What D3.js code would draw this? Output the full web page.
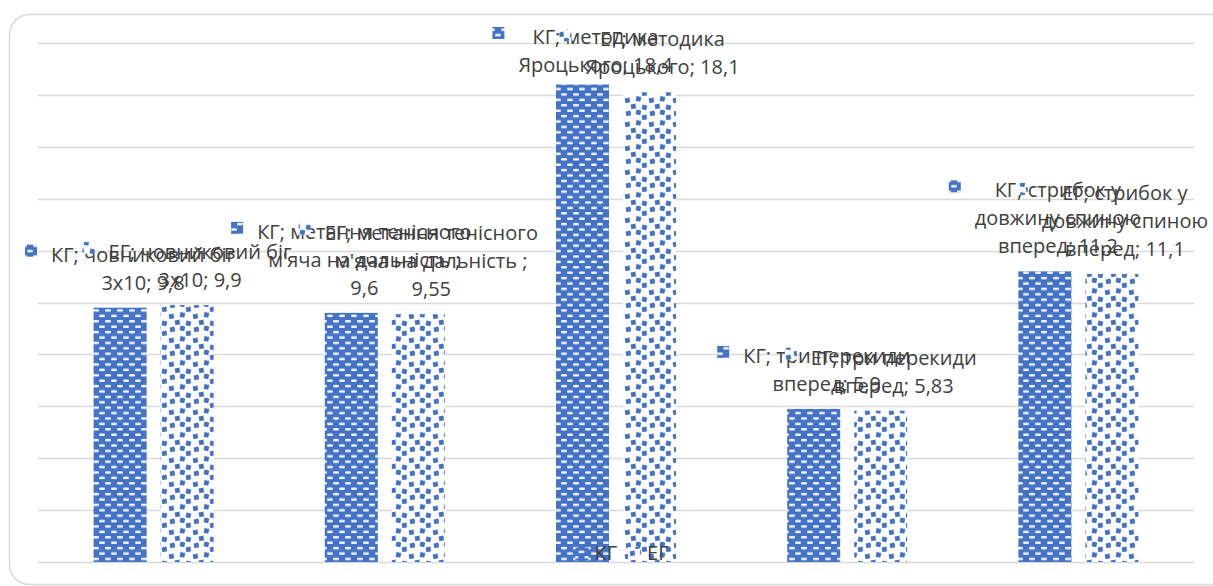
<!DOCTYPE html>
<html>
<head>
<meta charset="utf-8">
<script src="https://cdn.jsdelivr.net/npm/d3@7"></script>
<style>
  html, body { margin: 0; padding: 0; background: #fff; }
  svg { display: block; }
  text { font-family: "Open Sans", "Noto Sans", sans-serif; fill: #404040; }
</style>
</head>
<body>
<svg id="chart" width="1213" height="586"></svg>
<script>
// ---- data ----
const categories = [
  "човниковий біг\n3x10",
  "метання тенісного\nм'яча на дальність ",
  "методика\nЯроцького",
  "три перекиди\nвперед",
  "стрибок у\nдовжину спиною\nвперед"
];
const valueOnNewLine = [false, true, false, false, false];
const seriesNames = ["КГ", "ЕГ"];
const kgValues = [9.8, 9.6, 18.4, 5.9, 11.2];
const egValues = [9.9, 9.55, 18.1, 5.83, 11.1];
const yTicks = [0, 2, 4, 6, 8, 10, 12, 14, 16, 18, 20];

// ---- layout ----
const plot = { left: 38, right: 1194, top: 43, bottom: 562 };
const svg = d3.select("#chart");
const defs = svg.append("defs");
const blue = "#4472C4";

// KG pattern: blue with white short dashes in brick layout
const pK = defs.append("pattern").attr("id", "patKG")
  .attr("patternUnits", "userSpaceOnUse").attr("width", 12).attr("height", 10.8);
pK.append("rect").attr("width", 12).attr("height", 10.8).attr("fill", blue);
[[3, 1.4], [-3, 6.8], [9, 6.8]].forEach(([x, y]) =>
  pK.append("rect").attr("x", x).attr("y", y).attr("width", 6).attr("height", 2.6)
    .attr("rx", 1.3).attr("fill", "#f2f5fb"));

// EG pattern: white with blue confetti squares
const pE = defs.append("pattern").attr("id", "patEG")
  .attr("patternUnits", "userSpaceOnUse").attr("width", 24).attr("height", 24);
pE.append("rect").attr("width", 24).attr("height", 24).attr("fill", "#fff");
[[1, 2], [12, 0.5], [7, 8], [18, 9], [2, 15], [12, 14], [18, 19]].forEach(([x, y], i) =>
  pE.append("rect").attr("x", x).attr("y", y).attr("width", 4.8).attr("height", 4.8)
    .attr("transform", `rotate(${i % 2 ? 12 : -10},${x + 2.4},${y + 2.4})`)
    .attr("fill", blue));
const fills = ["url(#patKG)", "url(#patEG)"];

// chart frame
svg.append("rect").attr("x", 9.5).attr("y", 14.5).attr("width", 1240).attr("height", 570)
  .attr("rx", 20).attr("fill", "#fff").attr("stroke", "#d9d9d9").attr("stroke-width", 1.5);

const x0 = d3.scaleBand().domain(d3.range(categories.length)).range([plot.left, plot.right]).padding(0);
const groupW = 120;
const x1 = d3.scaleBand().domain(seriesNames).range([0, groupW]).paddingInner(0.209).paddingOuter(0);
const y = d3.scaleLinear().domain([0, 20]).range([plot.bottom, plot.top]);

// gridlines
svg.append("g").selectAll("line").data(yTicks).join("line")
  .attr("x1", plot.left).attr("x2", plot.right)
  .attr("y1", d => Math.round(y(d)) + 0.5).attr("y2", d => Math.round(y(d)) + 0.5)
  .attr("stroke", "#d9d9d9").attr("stroke-width", 1.5);

const series = [kgValues, egValues];
const fmt = v => String(v).replace(".", ",");

const bars = [];
series.forEach((vals, si) => {
  vals.forEach((v, ci) => {
    const xb = x0(ci) + x0.bandwidth() / 2 - groupW / 2 + x1(seriesNames[si]);
    bars.push({ si, ci, v, x: xb, w: x1.bandwidth() });
  });
});

svg.append("g").selectAll("rect").data(bars).join("rect")
  .attr("x", d => d.x).attr("y", d => y(d.v))
  .attr("width", d => d.w).attr("height", d => y(0) - y(d.v))
  .attr("fill", d => fills[d.si]);

// data labels
const fs = 20, lh = 28, keyS = 12, keyGap = 14;
const labG = svg.append("g");
bars.forEach(b => {
  const catParts = categories[b.ci].split("\n");
  let lines = catParts.slice();
  lines[0] = seriesNames[b.si] + "; " + lines[0];
  if (valueOnNewLine[b.ci]) {
    lines[lines.length - 1] += ";";
    lines.push(fmt(b.v));
  } else {
    lines[lines.length - 1] += "; " + fmt(b.v);
  }
  const g = labG.append("g");
  const texts = lines.map(t => g.append("text").attr("font-size", fs)
    .attr("text-anchor", "middle").text(t));
  const maxW = d3.max(texts, t => t.node().getComputedTextLength());
  let cx = b.x + b.w / 2 + (keyS + keyGap) / 2;
  let keyLeft = cx - maxW / 2 - keyGap - keyS;
  if (keyLeft < 25) { cx += 25 - keyLeft; keyLeft = 25; }
  let lastBase = y(b.v) - 18;
  let firstBase = lastBase - (lines.length - 1) * lh;
  if (firstBase < 44) firstBase = 44;
  texts.forEach((t, i) => t.attr("x", cx).attr("y", firstBase + i * lh));
  g.insert("rect", "text").attr("x", keyLeft).attr("y", firstBase - 17)
    .attr("width", keyS).attr("height", keyS).attr("fill", fills[b.si]);
});

// legend
const legG = svg.append("g");
const legItems = seriesNames.map((n, i) => ({ n, i }));
let lx = 0;
const legParts = legItems.map(d => {
  const g = legG.append("g");
  g.append("rect").attr("width", 13).attr("height", 13).attr("y", -13).attr("fill", fills[d.i]);
  const t = g.append("text").attr("x", 19).attr("font-size", fs).text(d.n);
  const w = 19 + t.node().getComputedTextLength();
  const item = { g, x: lx };
  lx += w + 11;
  return item;
});
const legW = lx - 11;
const legX = (plot.left + plot.right) / 2 - legW / 2 + 6;
legParts.forEach(p => p.g.attr("transform", `translate(${legX + p.x},560)`));
</script>
</body>
</html>
